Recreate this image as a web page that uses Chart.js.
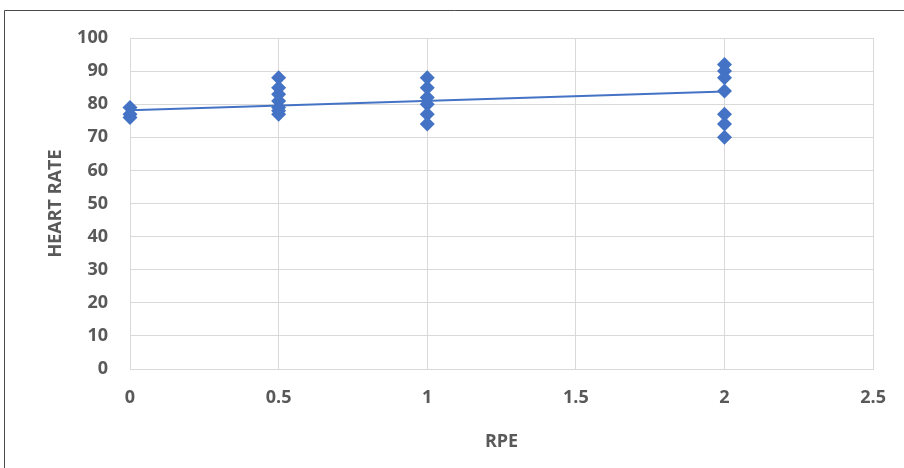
<!DOCTYPE html>
<html>
<head>
<meta charset="utf-8">
<script src="https://cdn.jsdelivr.net/npm/chart.js@4/dist/chart.umd.min.js"></script>
<style>
html,body{margin:0;padding:0;background:#fff;}
#wrap{width:904px;height:468px;position:relative;}
</style>
</head>
<body>
<div id="wrap"><canvas id="c" width="904" height="468"></canvas></div>
<script>
// Data
const rpeValues = [0, 0, 0,
  0.5, 0.5, 0.5, 0.5, 0.5, 0.5, 0.5,
  1, 1, 1, 1, 1, 1,
  2, 2, 2, 2, 2, 2, 2];
const heartRateValues = [79, 77, 76,
  88, 85, 83, 81, 79, 78, 77,
  88, 85, 82, 80, 77, 74,
  92, 90, 88, 84, 77, 74, 70];
const trendX = [0, 2];
const trendY = [78.2, 83.8];
const xTicks = [0, 0.5, 1, 1.5, 2, 2.5];
const yTicks = [0, 10, 20, 30, 40, 50, 60, 70, 80, 90, 100];

const blue = '#4472C4';
const points = rpeValues.map((x, i) => ({x: x, y: heartRateValues[i]}));
const trend = trendX.map((x, i) => ({x: x, y: trendY[i]}));

const framePlugin = {
  id: 'frame',
  beforeDraw(chart) {
    const ctx = chart.ctx;
    ctx.save();
    ctx.fillStyle = '#fff';
    ctx.fillRect(0, 0, chart.width, chart.height);
    ctx.strokeStyle = '#4a4a4a';
    ctx.lineWidth = 1;
    ctx.beginPath();
    ctx.moveTo(4.5, 480);
    ctx.lineTo(4.5, 10.5);
    ctx.lineTo(910, 10.5);
    ctx.stroke();
    ctx.restore();
  }
};

const tickFont = {family: '"Open Sans", sans-serif', size: 18, weight: 'bold'};

new Chart(document.getElementById('c'), {
  type: 'scatter',
  data: {
    datasets: [
      {
        type: 'line',
        data: trend,
        borderColor: blue,
        borderWidth: 2,
        pointRadius: 0,
        fill: false,
        clip: false,
        order: 2
      },
      {
        data: points,
        pointStyle: 'rectRot',
        pointRadius: 7.5,
        pointHoverRadius: 7.5,
        backgroundColor: blue,
        borderColor: blue,
        borderWidth: 0,
        clip: false,
        order: 1
      }
    ]
  },
  options: {
    responsive: false,
    animation: false,
    devicePixelRatio: 1,
    layout: {padding: {left: 0, top: 38, right: 29, bottom: 0}},
    plugins: {legend: {display: false}, tooltip: {enabled: false}},
    scales: {
      x: {
        type: 'linear',
        min: 0, max: 2.5,
        afterBuildTicks: (s) => { s.ticks = xTicks.map(v => ({value: v})); },
        afterFit: (s) => { s.height = 99; },
        grid: {color: '#d9d9d9', lineWidth: 1, drawTicks: false},
        border: {color: '#d9d9d9', width: 1},
        ticks: {font: tickFont, color: '#595959', padding: 18, callback: (v) => String(v)},
        title: {display: true, text: 'RPE', font: tickFont, color: '#595959', padding: {top: 0, bottom: 15}}
      },
      y: {
        type: 'linear',
        min: 0, max: 100,
        afterBuildTicks: (s) => { s.ticks = yTicks.map(v => ({value: v})); },
        afterFit: (s) => { s.width = 130; },
        grid: {color: '#d9d9d9', lineWidth: 1, drawTicks: false},
        border: {color: '#d9d9d9', width: 1},
        ticks: {font: tickFont, color: '#595959', padding: 22, callback: (v) => String(v)},
        title: {display: true, text: 'HEART RATE', font: tickFont, color: '#595959', padding: {top: 45, bottom: 0}}
      }
    }
  },
  plugins: [framePlugin]
});
</script>
</body>
</html>
